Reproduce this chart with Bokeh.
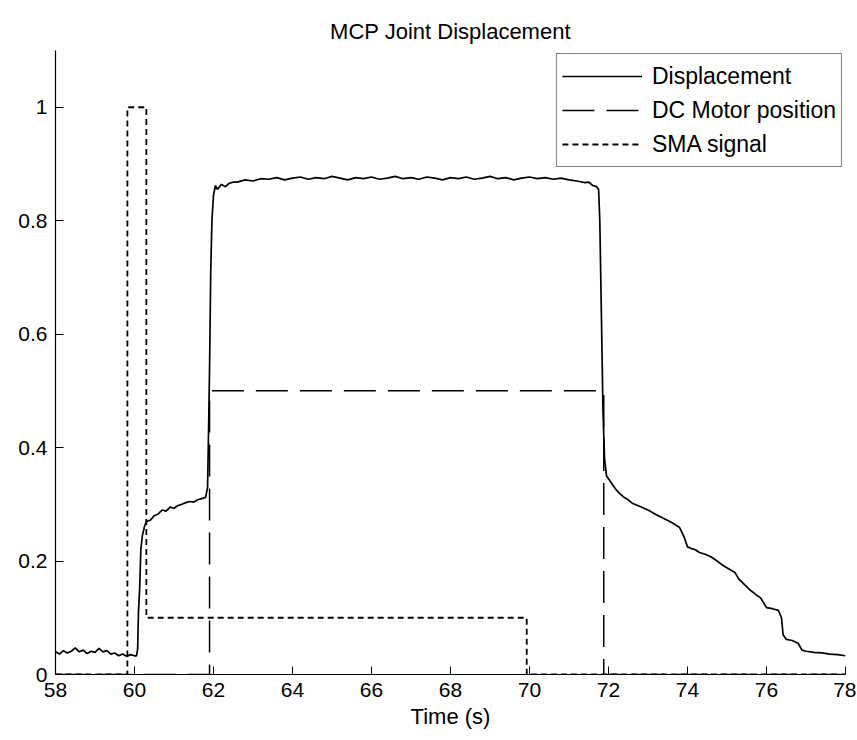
from bokeh.plotting import figure
from bokeh.models import Legend, LegendItem, FixedTicker, Range1d
from bokeh.embed import file_html
from bokeh.resources import INLINE

# ---- data ----
time_disp = [58.0, 58.1, 58.2, 58.3, 58.4, 58.5, 58.6, 58.7, 58.8, 58.9,
             59.0, 59.1, 59.2, 59.3, 59.4, 59.5, 59.6, 59.7, 59.8, 59.9,
             60.0, 60.05, 60.08, 60.1, 60.13, 60.16, 60.2, 60.25, 60.3, 60.4,
             60.5, 60.6, 60.7, 60.8, 60.9, 61.0, 61.1, 61.2, 61.3, 61.4,
             61.5, 61.6, 61.7, 61.8, 61.85, 61.88, 61.9, 61.93, 61.96, 62.0,
             62.05, 62.1, 62.2, 62.3, 62.4, 62.5, 62.6, 62.8, 63.0, 63.2,
             63.4, 63.6, 63.8, 64.0, 64.2, 64.4, 64.6, 64.8, 65.0, 65.2,
             65.4, 65.6, 65.8, 66.0, 66.2, 66.4, 66.6, 66.8, 67.0, 67.2,
             67.4, 67.6, 67.8, 68.0, 68.2, 68.4, 68.6, 68.8, 69.0, 69.2,
             69.4, 69.6, 69.8, 70.0, 70.2, 70.4, 70.6, 70.8, 71.0, 71.2,
             71.4, 71.5, 71.6, 71.7, 71.75, 71.78, 71.82, 71.86, 71.9, 71.95,
             72.0, 72.1, 72.2, 72.3, 72.4, 72.5, 72.6, 72.8, 73.0, 73.2,
             73.4, 73.6, 73.8, 73.9, 74.0, 74.1, 74.2, 74.3, 74.45, 74.6,
             74.75, 74.9, 75.05, 75.2, 75.3, 75.45, 75.6, 75.75, 75.85, 76.0,
             76.15, 76.3, 76.38, 76.42, 76.5, 76.65, 76.8, 76.9, 77.0, 77.2,
             77.4, 77.6, 77.8, 78.0]
displacement = [0.040, 0.036, 0.042, 0.038, 0.041, 0.047, 0.040, 0.043, 0.037, 0.041,
                0.039, 0.046, 0.040, 0.042, 0.036, 0.038, 0.033, 0.036, 0.032, 0.035,
                0.033, 0.033, 0.045, 0.110, 0.150, 0.220, 0.245, 0.260, 0.270, 0.272,
                0.280, 0.283, 0.290, 0.288, 0.295, 0.293, 0.298, 0.300, 0.303, 0.305,
                0.304, 0.308, 0.310, 0.312, 0.330, 0.450, 0.540, 0.710, 0.800, 0.845,
                0.862, 0.855, 0.864, 0.860, 0.866, 0.868, 0.868, 0.872, 0.870, 0.874,
                0.873, 0.876, 0.872, 0.875, 0.877, 0.873, 0.876, 0.874, 0.878, 0.875,
                0.872, 0.876, 0.874, 0.877, 0.873, 0.875, 0.878, 0.874, 0.876, 0.873,
                0.877, 0.875, 0.872, 0.876, 0.874, 0.877, 0.873, 0.875, 0.878, 0.874,
                0.876, 0.872, 0.875, 0.877, 0.874, 0.876, 0.873, 0.875, 0.872, 0.870,
                0.867, 0.868, 0.862, 0.860, 0.855, 0.800, 0.635, 0.465, 0.380, 0.350,
                0.345, 0.335, 0.325, 0.318, 0.312, 0.308, 0.302, 0.296, 0.290, 0.282,
                0.275, 0.268, 0.259, 0.245, 0.225, 0.222, 0.220, 0.215, 0.212, 0.207,
                0.200, 0.192, 0.186, 0.180, 0.168, 0.158, 0.148, 0.140, 0.135, 0.118,
                0.116, 0.113, 0.100, 0.070, 0.062, 0.060, 0.055, 0.043, 0.041, 0.039,
                0.038, 0.036, 0.035, 0.033]

time_motor = [58.0, 61.9, 61.9, 71.88, 71.88, 78.0]
motor_position = [0.0, 0.0, 0.5, 0.5, 0.0, 0.0]

time_sma = [58.0, 59.82, 59.82, 60.3, 60.3, 69.93, 69.93, 78.0]
sma_signal = [0.0, 0.0, 1.0, 1.0, 0.1, 0.1, 0.0, 0.0]

x_ticks = [58, 60, 62, 64, 66, 68, 70, 72, 74, 76, 78]
y_ticks = [0, 0.2, 0.4, 0.6, 0.8, 1.0]
y_tick_labels = ["0", "0.2", "0.4", "0.6", "0.8", "1"]

FONT = "Liberation Sans"

p = figure(width=856, height=732, output_backend="svg", toolbar_location=None,
           x_range=Range1d(58, 78), y_range=Range1d(0, 1.1),
           min_border_left=55, min_border_right=11, min_border_top=50,
           min_border_bottom=58)

p.title.text = "MCP Joint Displacement"
p.title.align = "center"
p.title.vertical_align = "top"
p.title.text_font = FONT
p.title.text_font_size = "22px"
p.title.text_font_style = "normal"
p.title.text_color = "black"
p.title.standoff = 10

p.outline_line_color = None
p.xgrid.visible = False
p.ygrid.visible = False
p.background_fill_color = "white"
p.border_fill_color = "white"

r_disp = p.line(time_disp, displacement, line_color="black", line_width=1.7)
r_motor = p.line(time_motor, motor_position, line_color="black", line_width=1.5,
                 line_dash="32 12")
r_sma = p.line(time_sma, sma_signal, line_color="black", line_width=1.8,
               line_dash="6 4")

for ax in (p.xaxis[0], p.yaxis[0]):
    ax.axis_line_color = "black"
    ax.axis_line_width = 1.2
    ax.major_tick_line_color = "black"
    ax.major_tick_in = 8
    ax.major_tick_out = 0
    ax.minor_tick_line_color = None
    ax.major_label_text_font = FONT
    ax.major_label_text_font_size = "21px"
    ax.major_label_text_color = "black"
    ax.major_label_standoff = 8

p.xaxis.ticker = FixedTicker(ticks=x_ticks)
p.yaxis.ticker = FixedTicker(ticks=y_ticks)
p.yaxis.major_label_overrides = {t: s for t, s in zip(y_ticks, y_tick_labels)}
p.xaxis.axis_label = "Time (s)"
p.xaxis.axis_label_text_font = FONT
p.xaxis.axis_label_text_font_size = "22px"
p.xaxis.axis_label_text_font_style = "normal"
p.xaxis.axis_label_text_color = "black"
p.xaxis.axis_label_standoff = 4

legend = Legend(items=[LegendItem(label="Displacement", renderers=[r_disp]),
                       LegendItem(label="DC Motor position", renderers=[r_motor]),
                       LegendItem(label="SMA signal", renderers=[r_sma])],
                location="top_right")
legend.border_line_color = "black"
legend.border_line_width = 1
legend.background_fill_color = "white"
legend.background_fill_alpha = 1
legend.glyph_width = 80
legend.glyph_height = 34
legend.label_height = 34
legend.spacing = 0
legend.padding = 5
legend.margin = 3
legend.label_standoff = 10
legend.label_text_font = FONT
legend.label_text_font_size = "23px"
legend.label_text_color = "black"
p.add_layout(legend)

open("out.html", "w").write(file_html(p, INLINE))
